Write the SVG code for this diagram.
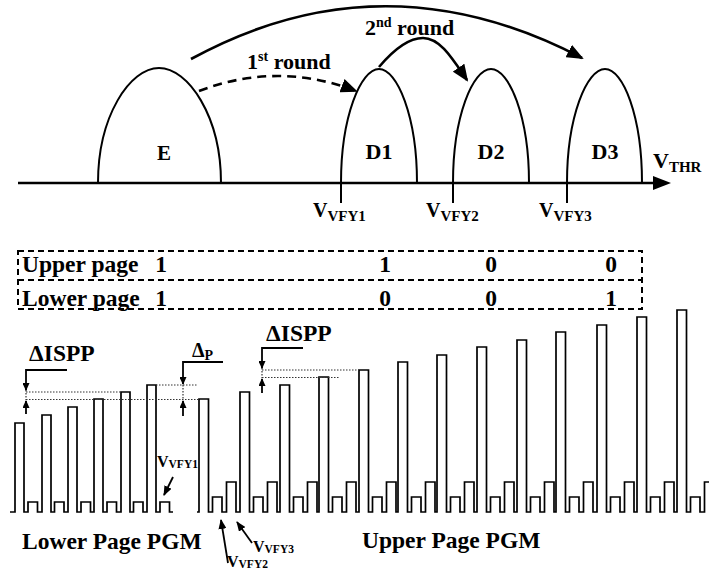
<svg xmlns="http://www.w3.org/2000/svg" width="709" height="569" viewBox="0 0 709 569" font-family="'Liberation Serif', 'DejaVu Serif', serif" font-weight="bold">
  <style>
    text { font-family: "Liberation Serif", "DejaVu Serif", serif; font-weight: bold; fill: #000; }
    .lbl { font-size: 22px; }
    .big { font-size: 23.5px; }
    .bell { fill: none; stroke: #000; stroke-width: 2; }
    .arc { fill: none; stroke: #000; stroke-width: 2.6; }
    .dash { stroke-dasharray: 9 6; }
    .wave { fill: none; stroke: #000; stroke-width: 1.7; stroke-linejoin: miter; }
    .tbl { fill: none; stroke: #000; stroke-width: 2; stroke-dasharray: 6 4; }
    .dot { fill: none; stroke: #333; stroke-width: 1.2; stroke-dasharray: 1.5 1.5; }
    .ann { fill: none; stroke: #000; stroke-width: 1.8; }
  </style>
  <defs>
    <marker id="ah" markerWidth="17" markerHeight="14" refX="15" refY="7" orient="auto" markerUnits="userSpaceOnUse">
      <path d="M0,0 L17,7 L0,14 z" fill="#000"/>
    </marker>
    <marker id="ahs" markerWidth="8" markerHeight="7" refX="7" refY="3.5" orient="auto" markerUnits="userSpaceOnUse">
      <path d="M0,0 L8,3.5 L0,7 z" fill="#000"/>
    </marker>
    <marker id="ahm" markerWidth="10" markerHeight="8" refX="9" refY="4" orient="auto" markerUnits="userSpaceOnUse">
      <path d="M0,0 L10,4 L0,8 z" fill="#000"/>
    </marker>
  </defs>

  <!-- threshold-voltage axis -->
  <g id="axis">
    <line x1="18" y1="183" x2="656" y2="183" stroke="#000" stroke-width="2.6"/>
    <path d="M653,176 L671,183 L653,190 z" fill="#000"/>
    <text x="653" y="168" style="font-size:22px">V<tspan dy="4" style="font-size:15px">THR</tspan></text>
  </g>

  <!-- state distributions -->
  <g id="E">
    <path class="bell" d="M98,183 C98,116 130,68 159,68 C188,68 221,116 221,183"/>
    <text x="164" y="160" text-anchor="middle" style="font-size:21px">E</text>
  </g>
  <g id="D1">
    <path class="bell" d="M341,203 V183 C341,116 361,69 379,69 C397,69 417,116 417,183"/>
    <text x="379" y="159" text-anchor="middle" class="lbl">D1</text>
  </g>
  <g id="D2">
    <path class="bell" d="M453,203 V183 C453,116 473,69 491,69 C509,69 529,116 529,183"/>
    <text x="491" y="159" text-anchor="middle" class="lbl">D2</text>
  </g>
  <g id="D3">
    <path class="bell" d="M567,203 V183 C567,116 587,69 605,69 C623,69 642,116 642,183"/>
    <text x="605" y="159" text-anchor="middle" class="lbl">D3</text>
  </g>

  <!-- verify levels -->
  <g id="verify-levels">
    <text x="313" y="217" style="font-size:20px">V<tspan dy="4" style="font-size:15px">VFY1</tspan></text>
    <text x="426" y="217" style="font-size:20px">V<tspan dy="4" style="font-size:15px">VFY2</tspan></text>
    <text x="539" y="217" style="font-size:20px">V<tspan dy="4" style="font-size:15px">VFY3</tspan></text>
  </g>

  <!-- programming rounds -->
  <g id="connectors">
    <path class="arc" d="M191,59 Q383,-46 582,58" marker-end="url(#ah)"/>
    <path class="arc dash" d="M199,91 Q278,61 356,91" marker-end="url(#ah)"/>
    <path class="arc" d="M379,67 C395,48 410,38 423,38 C440,38 452,58 467,80" marker-end="url(#ah)"/>
  </g>
  <g id="round-labels">
    <text x="247" y="69" class="lbl">1<tspan dy="-8" style="font-size:14px">st</tspan><tspan dy="8"> round</tspan></text>
    <text x="365" y="35" class="lbl">2<tspan dy="-8" style="font-size:14px">nd</tspan><tspan dy="8"> round</tspan></text>
  </g>

  <!-- page bit mapping -->
  <g id="page-table">
    <rect class="tbl" x="18" y="251" width="624" height="58"/>
    <line class="tbl" x1="18" y1="280" x2="642" y2="280"/>
    <text x="22" y="272" class="big">Upper page</text>
    <text x="161" y="272" text-anchor="middle" class="big">1</text>
    <text x="385" y="272" text-anchor="middle" class="big">1</text>
    <text x="491" y="272" text-anchor="middle" class="big">0</text>
    <text x="611" y="272" text-anchor="middle" class="big">0</text>
    <text x="22" y="306" class="big">Lower page</text>
    <text x="161" y="306" text-anchor="middle" class="big">1</text>
    <text x="385" y="306" text-anchor="middle" class="big">0</text>
    <text x="491" y="306" text-anchor="middle" class="big">0</text>
    <text x="611" y="306" text-anchor="middle" class="big">1</text>
  </g>

  <!-- ISPP pulse trains -->
  <g id="lower-page-pulses">
    <path class="wave" d="M10,512 H15 V423 H24 V512 H28 V502 H37.5 V512 H42 V415 H51 V512 H54.5 V502 H64 V512 H68 V407 H77 V512 H81 V502 H90.5 V512 H94 V399 H103 V512 H107 V502 H116.5 V512 H121 V392 H130 V512 H133.5 V502 H143 V512 H147 V385 H156 V512 H160 V502 H169.5 V512 H173"/>
  </g>
  <g id="upper-page-pulses">
    <path class="wave" d="M197,512 H199 V399 H208.5 V512 H212.5 V497 H222 V512 H226.5 V482 H236 V512
      H240 V392 H249.5 V512 H253.5 V497 H263 V512 H267.5 V482 H277 V512
      H280 V385 H289.5 V512 H293.5 V497 H303 V512 H307.5 V482 H317 V512
      H319 V377 H328.5 V512 H332.5 V497 H342 V512 H346.5 V482 H356 V512
      H359 V370 H368.5 V512 H372.5 V497 H382 V512 H386.5 V482 H396 V512
      H398 V362 H407.5 V512 H411.5 V497 H421 V512 H425.5 V482 H435 V512
      H437 V355 H446.5 V512 H450.5 V497 H460 V512 H464.5 V482 H474 V512
      H477 V347 H486.5 V512 H490.5 V497 H500 V512 H504.5 V482 H514 V512
      H517 V340 H526.5 V512 H530.5 V497 H540 V512 H544.5 V482 H554 V512
      H556 V332 H565.5 V512 H569.5 V497 H579 V512 H583.5 V482 H593 V512
      H597 V325 H606.5 V512 H610.5 V497 H620 V512 H624.5 V482 H634 V512
      H637 V317 H646.5 V512 H650.5 V497 H660 V512 H664.5 V482 H674 V512
      H677 V310 H686.5 V512 H690.5 V497 H700 V512 H704.5 V482 H714"/>
  </g>

  <!-- step annotations -->
  <g id="ispp-step-lower">
    <line class="dot" x1="26" y1="392" x2="121" y2="392"/>
    <line class="dot" x1="26" y1="399.5" x2="199" y2="399.5"/>
    <line class="dot" x1="26" y1="390" x2="26" y2="400"/>
    <path class="ann" d="M67,370 H26 V390" marker-end="url(#ahs)"/>
    <path class="ann" d="M26,414 V401" marker-end="url(#ahs)"/>
    <text x="29" y="361" class="big">ΔISPP</text>
  </g>
  <g id="delta-p">
    <line class="dot" x1="156" y1="385" x2="198" y2="385"/>
    <line class="dot" x1="183" y1="385" x2="183" y2="399"/>
    <path class="ann" d="M223,362 H183 V384" marker-end="url(#ahs)"/>
    <path class="ann" d="M183,416 V401" marker-end="url(#ahs)"/>
    <text x="192" y="357" style="font-size:20px">Δ<tspan dy="3" style="font-size:14px">P</tspan></text>
  </g>
  <g id="ispp-step-upper">
    <line class="dot" x1="262" y1="370" x2="359" y2="370"/>
    <line class="dot" x1="262" y1="377.5" x2="340" y2="377.5"/>
    <line class="dot" x1="262" y1="368" x2="262" y2="378"/>
    <path class="ann" d="M303,348 H262 V368" marker-end="url(#ahs)"/>
    <path class="ann" d="M262,393 V379" marker-end="url(#ahs)"/>
    <text x="266" y="341" class="big">ΔISPP</text>
  </g>

  <!-- verify pulse callouts -->
  <g id="vfy1-callout">
    <text x="157" y="467" style="font-size:16px">V<tspan dy="1" style="font-size:11.5px">VFY1</tspan></text>
    <path class="ann" d="M173,477 L164,495" marker-end="url(#ahm)"/>
  </g>
  <g id="vfy23-callout">
    <path class="ann" d="M228,563 L221,520" marker-end="url(#ahm)"/>
    <path class="ann" d="M252,543 L237,522" marker-end="url(#ahm)"/>
    <text x="253" y="552" style="font-size:16px">V<tspan dy="1" style="font-size:11.5px">VFY3</tspan></text>
    <text x="227" y="567" style="font-size:16px">V<tspan dy="1" style="font-size:11.5px">VFY2</tspan></text>
  </g>

  <g id="phase-labels">
    <text x="22" y="549" class="big">Lower Page PGM</text>
    <text x="362" y="548" class="big">Upper Page PGM</text>
  </g>
</svg>
